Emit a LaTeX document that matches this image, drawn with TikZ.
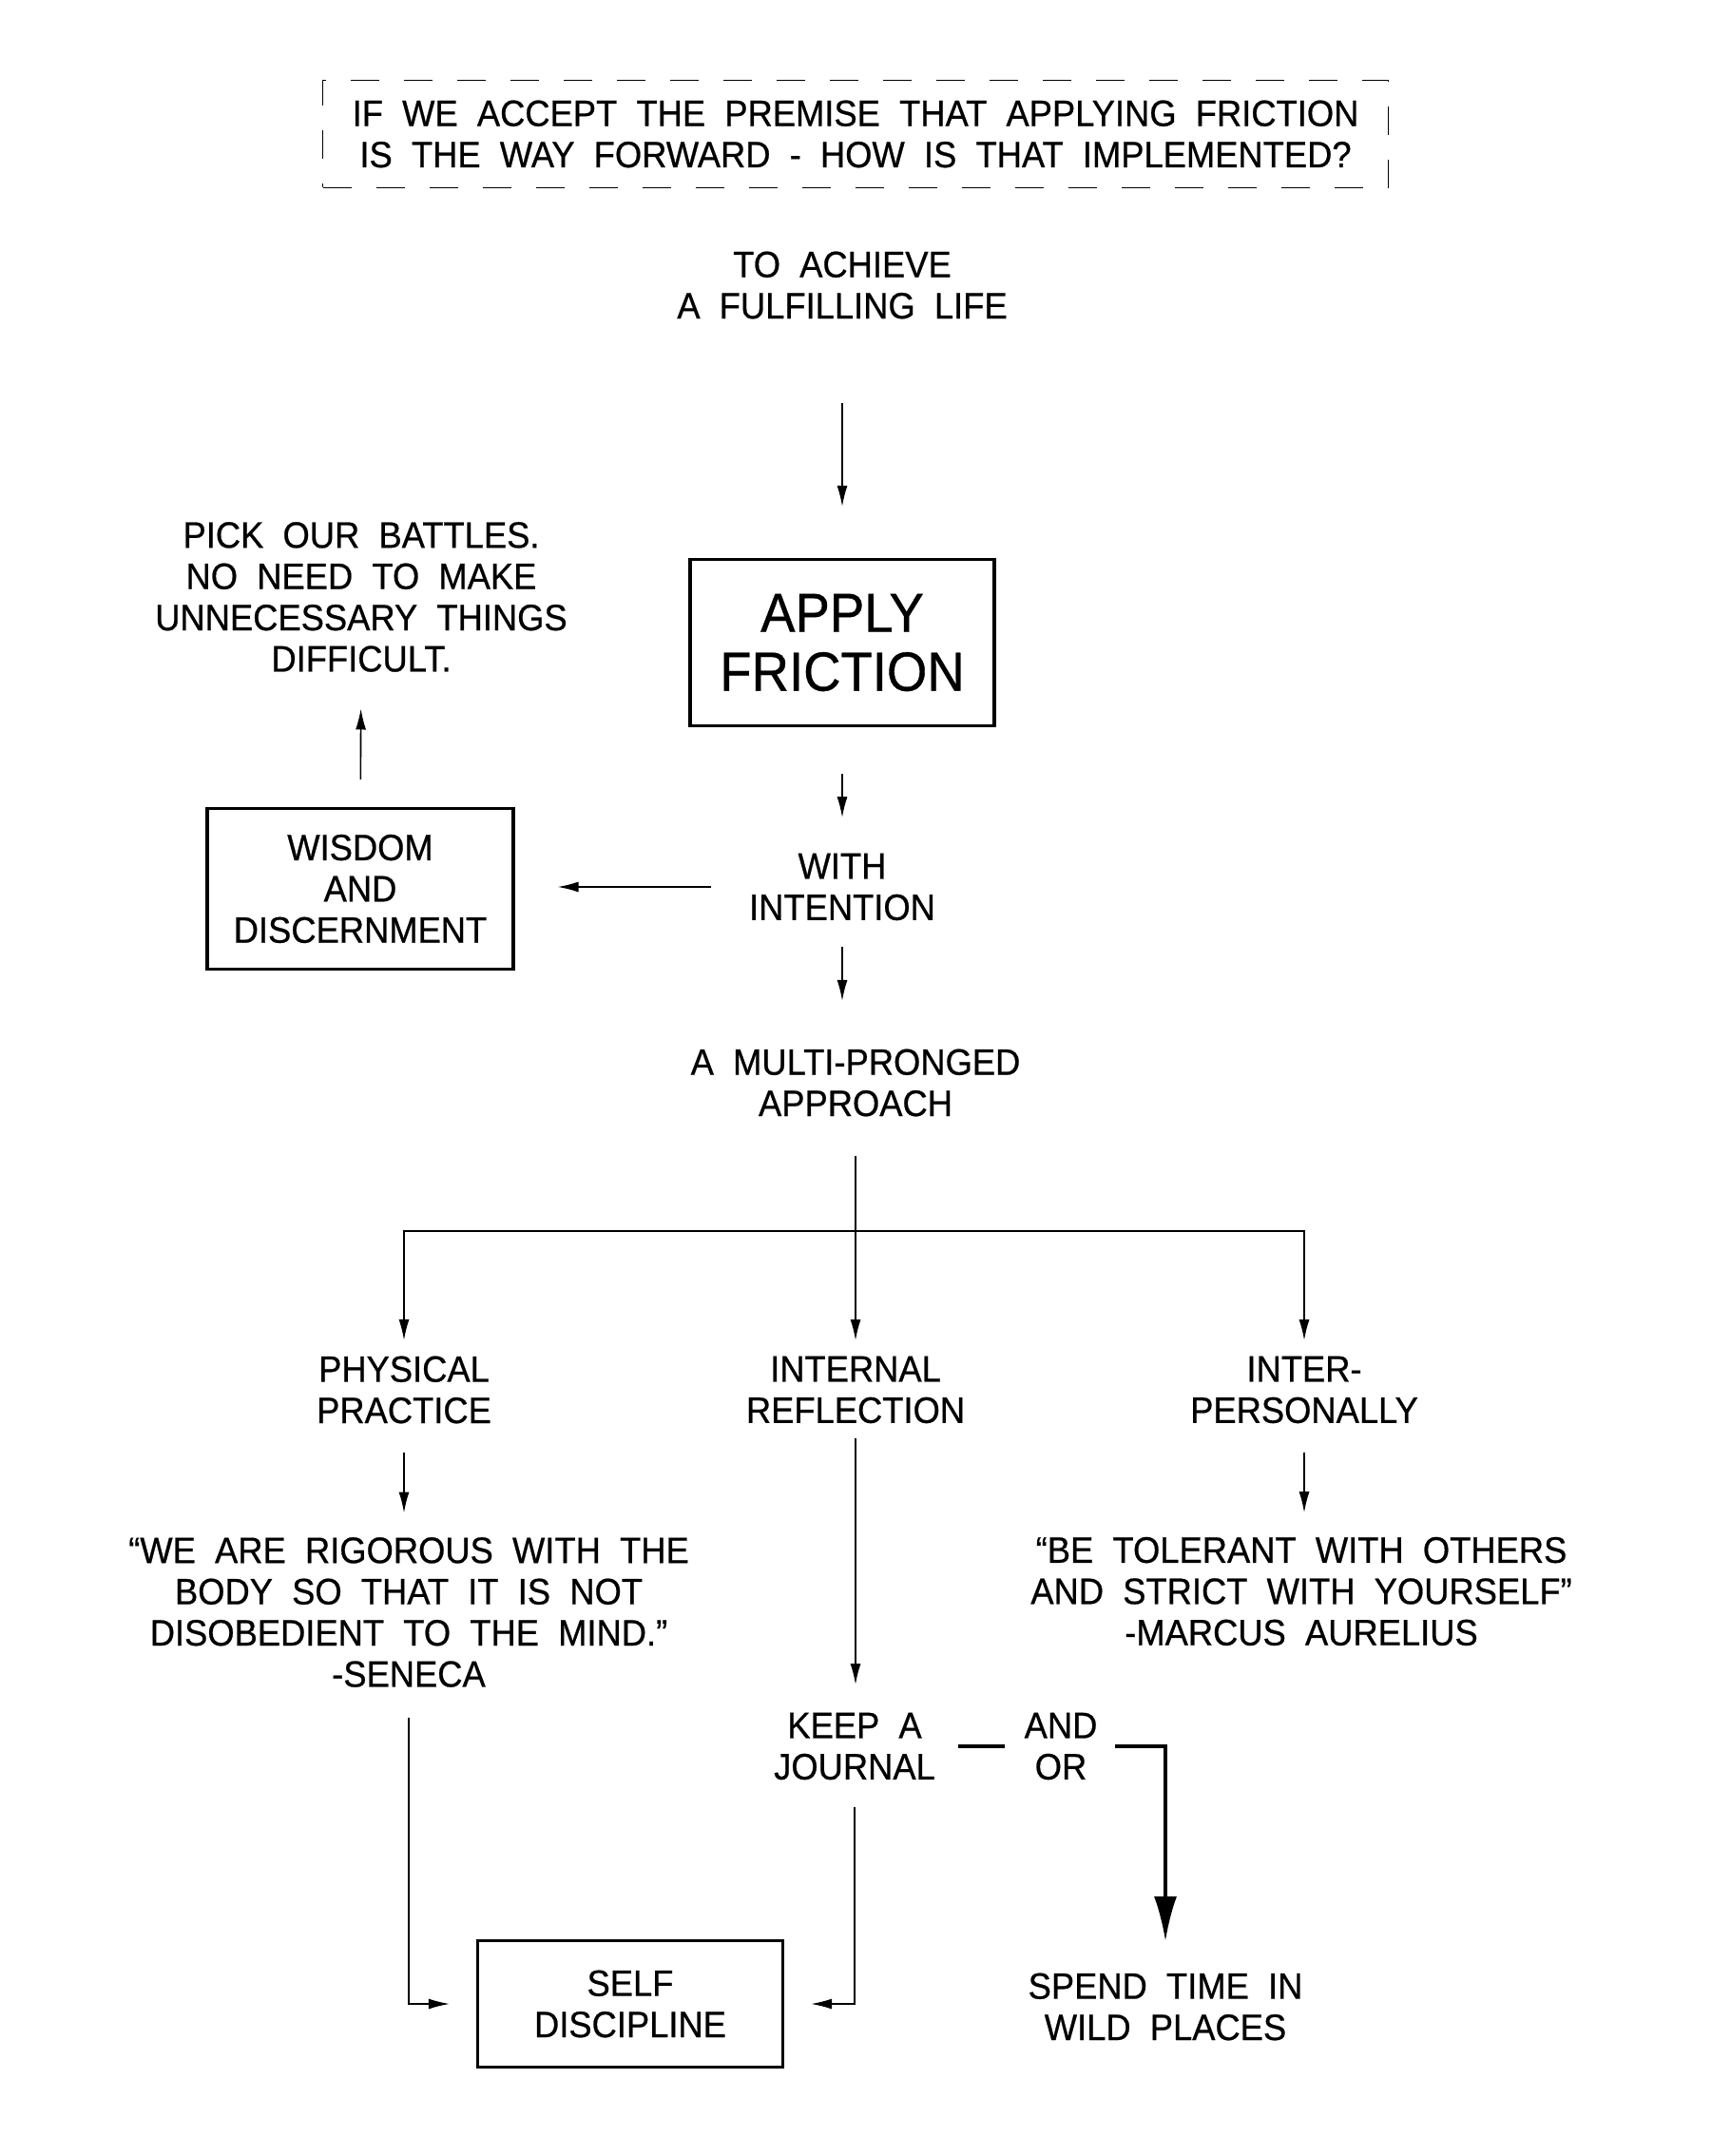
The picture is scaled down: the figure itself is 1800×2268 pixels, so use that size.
\documentclass[tikz,border=0pt]{standalone}
\usepackage{fontspec}
\setmainfont{Liberation Sans}[FakeStretch=0.94, WordSpace=2, FakeBold=0.6]
\usetikzlibrary{arrows.meta}
\tikzstyle{frame box}=[
    draw,
    line width = 0.9pt,
    align = center,
    inner sep = 0pt
]
\tikzstyle{note}=[align = center, inner sep = 0pt]

\begin{document}
\begin{tikzpicture}[x=0.1mm, y=-0.1mm,
    font=\fontsize{11pt}{12.35pt}\selectfont,
    thin line/.style = {line width=0.45pt},
    arr/.style = {thin line, -{Latex[length=2.2mm, width=1.1mm]}},
    big arr/.style = {line width=0.95pt, -{Latex[length=4.7mm, width=2.4mm]}}]
        \useasboundingbox (0,0) rectangle (1800,2268);

        \node[note, draw, thin line, dash pattern=on 3mm off 2.6mm, minimum width=112.1mm, minimum height=11.3mm] (question) at (900,141) {IF WE ACCEPT THE PREMISE THAT APPLYING FRICTION\\IS THE WAY FORWARD - HOW IS THAT IMPLEMENTED?};
        \node[note] (goal) at (886,300) {TO ACHIEVE\\A FULFILLING LIFE};
        \node[frame box, minimum width=32mm, minimum height=17.5mm, font=\fontsize{16.5pt}{17.6pt}\selectfont] (apply) at (886,676) {APPLY\\FRICTION};
        \node[note] (intent) at (886,933) {WITH\\INTENTION};
        \node[frame box, minimum width=32.2mm, minimum height=16.9mm] (wisdom) at (379,935) {WISDOM\\AND\\DISCERNMENT};
        \node[note] (pick) at (380,628) {PICK OUR BATTLES.\\NO NEED TO MAKE\\UNNECESSARY THINGS\\DIFFICULT.};
        \node[note] (multi) at (900,1139) {A MULTI-PRONGED\\APPROACH};
        \node[note] (phys) at (425,1462) {PHYSICAL\\PRACTICE};
        \node[note] (intl) at (900,1462) {INTERNAL\\REFLECTION};
        \node[note] (inter) at (1372,1462) {INTER-\\PERSONALLY};
        \node[note] (seneca) at (430,1696) {``WE ARE RIGOROUS WITH THE\\BODY SO THAT IT IS NOT\\DISOBEDIENT TO THE MIND.''\\-SENECA};
        \node[note] (marcus) at (1369,1674) {``BE TOLERANT WITH OTHERS\\AND STRICT WITH YOURSELF''\\-MARCUS AURELIUS};
        \node[note] (journal) at (899,1837) {KEEP A\\JOURNAL};
        \node[note] (andor) at (1116,1837) {AND\\OR};
        \node[frame box, minimum width=32.1mm, minimum height=13.3mm] (self) at (663,2108) {SELF\\DISCIPLINE};
        \node[note] (wild) at (1226,2111) {SPEND TIME IN\\WILD PLACES};
        \coordinate (fork) at (900,1295);

        \draw[arr, shorten <=8.8mm, shorten >=5.4mm] (goal) -- (apply);
        \draw[arr, shorten <=4.9mm, shorten >=3.7mm] (apply) -- (intent);
        \draw[arr, shorten <=3.9mm, shorten >=4.5mm] (intent.west) -- (intent.west -| wisdom.east);
        \draw[arr, shorten <=2.9mm, shorten >=3.8mm] (wisdom) -- (pick);
        \draw[arr, shorten <=2.7mm, shorten >=5mm] (intent.south) -- (intent.south |- multi.north);
        \draw[thin line, shorten <=4.1mm] (multi.south) -- (fork);
        \foreach \n in {phys,intl,inter}
            \draw[arr, shorten >=1.6mm] (fork) -| (\n.north);
        \draw[arr, shorten <=3mm, shorten >=2.5mm] (phys.south) -- (phys.south |- seneca.north);
        \draw[arr, shorten <=3mm, shorten >=2.5mm] (inter.south) -- (inter.south |- marcus.north);
        \draw[arr, shorten <=1.5mm, shorten >=2.9mm] (intl.south) -- (intl.south |- journal.north);
        \draw[arr, shorten <=3.1mm, shorten >=2.8mm] (seneca.south) |- (self.west);
        \draw[arr, shorten <=2.8mm, shorten >=2.8mm] (journal.south) |- (self.east);
        \draw[line width=0.95pt, shorten <=2.3mm, shorten >=2mm] (journal) -- (andor);
        \draw[big arr, shorten <=1.8mm, shorten >=3.3mm] (andor.east) -| (wild.north);

    \end{tikzpicture}
\end{document}
